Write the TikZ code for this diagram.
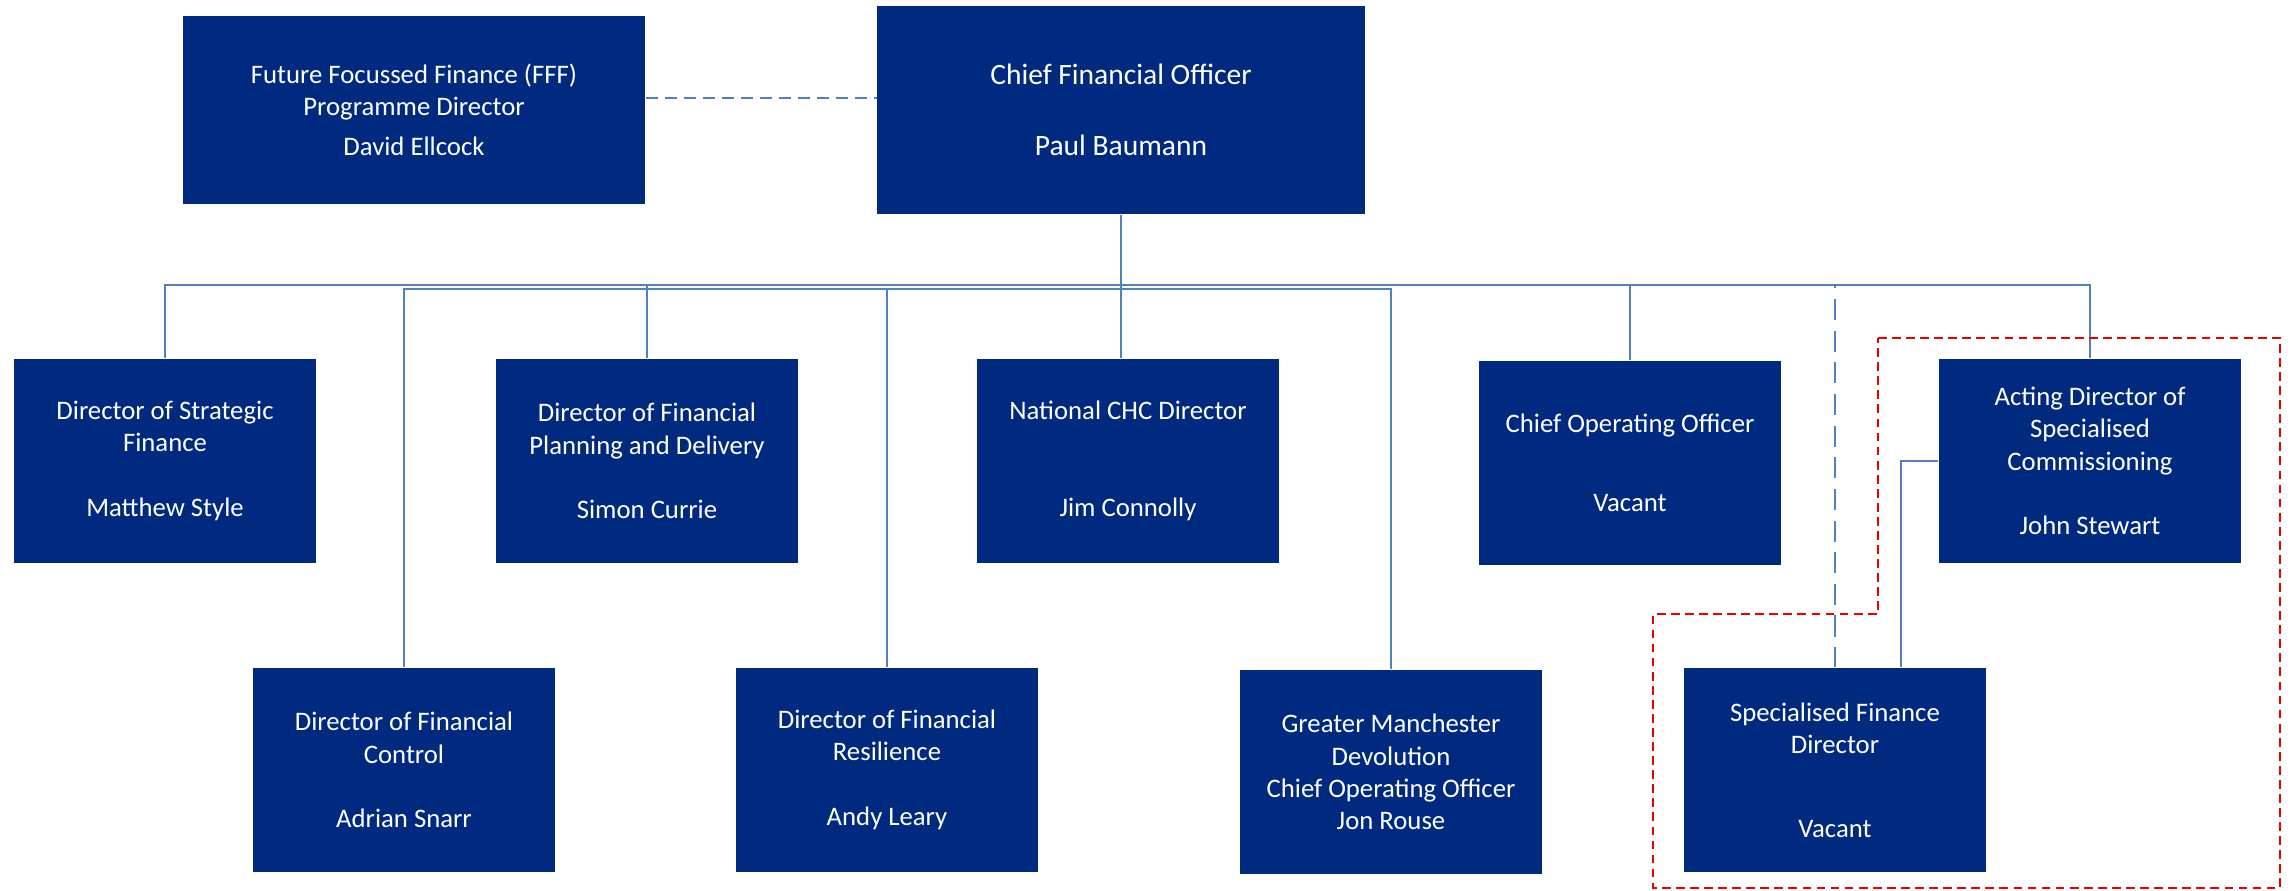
\documentclass[tikz,border=0pt]{standalone}
\usepackage{fontspec}
\setmainfont{Carlito}
\definecolor{boxnavy}{RGB}{0,42,127}
\definecolor{linkblue}{RGB}{79,129,189}
\definecolor{markred}{RGB}{235,0,0}
\tikzset{
  postbox/.style={rectangle, fill=boxnavy, text=white, align=center, inner sep=0pt,
    minimum width=3.02cm, minimum height=2.04cm, font=\fontsize{7.6}{9.2}\selectfont},
  link/.style={draw=linkblue, line width=0.6pt},
  dashlink/.style={link, dash pattern=on 3.4pt off 2pt},
  longdash/.style={link, dash pattern=on 6pt off 3pt},
  groupline/.style={draw=markred, line width=0.7pt, dash pattern=on 2.5pt off 1.5pt}
}
\begin{document}
\begin{tikzpicture}[x=0.01cm,y=-0.01cm]
\useasboundingbox (0,0) rectangle (2293,890);

% top row
\node[postbox, minimum width=4.62cm, minimum height=1.87cm] (fff) at (414,110)
  {Future Focussed Finance (FFF)\\Programme Director\\[2.1pt]David Ellcock};
\node[postbox, minimum width=4.87cm, minimum height=2.08cm, font=\fontsize{8.4}{10}\selectfont] (cfo) at (1121,110)
  {Chief Financial Officer\\[10pt]Paul Baumann};

% first row of directors
\node[postbox] (strat) at (165,461) {Director of Strategic\\Finance\\[9.2pt]Matthew Style};
\node[postbox] (plan) at (647,461) {Director of Financial\\Planning and Delivery\\[9.2pt]Simon Currie};
\node[postbox] (chc) at (1128,461) {National CHC Director\\[18.4pt]Jim Connolly};
\node[postbox] (coo) at (1630,463) {Chief Operating Officer\\[13.3pt]Vacant};
\node[postbox] (adsc) at (2090,461) {Acting Director of\\Specialised\\Commissioning\\[9.2pt]John Stewart};

% second row
\node[postbox] (control) at (404,770) {Director of Financial\\Control\\[9.2pt]Adrian Snarr};
\node[postbox] (resil) at (887,770) {Director of Financial\\Resilience\\[9.2pt]Andy Leary};
\node[postbox] (gm) at (1391,772) {Greater Manchester\\Devolution\\Chief Operating Officer\\Jon Rouse};
\node[postbox] (sfd) at (1835,770) {Specialised Finance\\Director\\[14.6pt]Vacant};

% connectors
\coordinate (bus) at (1121,285);
\coordinate (bus2) at (1121,289);
\draw[dashlink] ([yshift=0.12cm]fff.east) -- ([yshift=0.12cm]cfo.west);
\draw[link] (cfo.south) -- (cfo.south |- chc.north);
\foreach \n in {strat,plan,coo,adsc}
  \draw[link] (cfo.south) -- (bus) -| (\n.north);
\foreach \n in {control,resil,gm}
  \draw[link] (bus) -- (bus2) -| (\n.north);
\draw[longdash] (bus) -| (sfd.north);
\draw[link] (adsc.west) -| ([xshift=0.66cm]sfd.north);

% specialised commissioning group
\draw[groupline] (1878,338) -- (2280,338) -- (2280,888) -- (1653,888)
  -- (1653,614) -- (1878,614) -- cycle;
\end{tikzpicture}
\end{document}
